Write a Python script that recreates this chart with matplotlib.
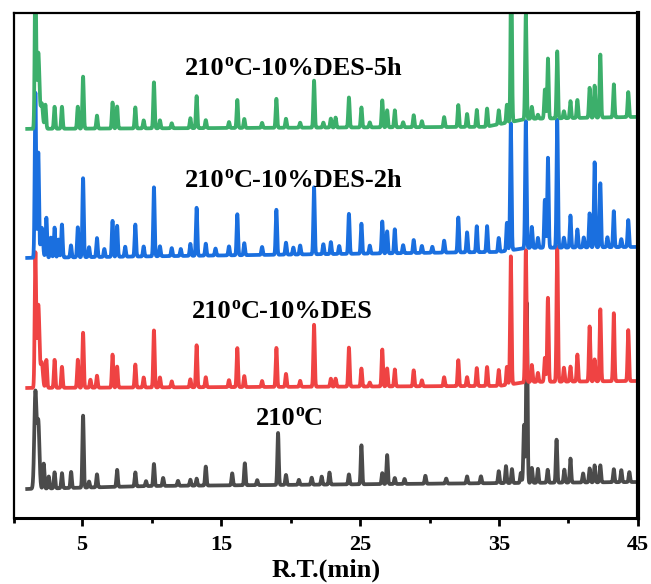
import numpy as np
import matplotlib
matplotlib.use("Agg")
import matplotlib.pyplot as plt
from matplotlib.transforms import offset_copy

# ==============================================================================
# DADOS: tempo de retenção (min) e altura dos picos
# ==============================================================================
# Linha de base de cada cromatograma (nós t, nível)
gray_base_t = [1.0, 10.0, 45.0]
gray_base_y = [29, 32, 36]
red_base_t = [1.0, 35.0, 37.0, 45.0]
red_base_y = [130, 132, 136, 137]
blue_base_t = [1.0, 35.0, 37.0, 45.0]
blue_base_y = [260, 266, 270, 271]
green_base_t = [1.0, 34.0, 37.0, 45.0]
green_base_y = [389, 391, 399, 401]

# 210oC
gray_rt = [1.64, 1.85, 2.24, 2.6, 3.02, 3.55, 4.21, 5.07, 5.5, 6.07, 7.52, 8.83,
           9.6, 10.17, 10.83, 11.9, 12.79, 13.24, 13.9, 15.8, 16.71, 17.6, 19.1,
           19.67, 20.6, 21.52, 22.24, 22.8, 24.2, 25.1, 26.6, 26.95, 27.5, 28.2,
           29.7, 31.2, 32.7, 33.7, 34.98, 35.5, 35.93, 36.57, 36.8, 37.0, 37.36,
           37.8, 38.5, 39.14, 39.7, 40.14, 41.05, 41.52, 41.88, 42.29, 43.26,
           43.8, 44.38]
gray_h = [96, 66, 25, 12, 16, 15, 16, 72, 6, 13, 17, 14,
          5, 22, 8, 5, 6, 7, 19, 12, 22, 5, 52,
          10, 5, 7, 8, 12, 10, 39, 11, 29, 6, 5,
          8, 5, 7, 7, 12, 17, 14, 10, 58, 180, 15,
          14, 13, 43, 13, 24, 9, 14, 17, 17, 13,
          12, 10]

# 210oC-10%DES
red_rt = [1.64, 1.85, 2.1, 2.43, 3.02, 3.55, 4.69, 5.07, 5.6, 6.07, 7.19, 7.52,
          8.83, 9.43, 10.17, 10.6, 11.45, 12.79, 13.24, 13.9, 15.57, 16.17,
          16.67, 17.95, 18.98, 19.67, 20.69, 21.69, 22.9, 23.24, 24.2, 25.1,
          25.7, 26.6, 26.95, 27.5, 28.86, 29.45, 31.05, 32.07, 32.7, 33.4,
          34.14, 34.98, 35.57, 35.85, 36.93, 37.36, 37.8, 38.3, 38.52, 39.19,
          39.67, 40.14, 40.64, 41.52, 41.88, 42.29, 43.26, 44.3]
red_h = [133, 83, 25, 28, 28, 21, 28, 55, 8, 12, 33, 21,
         23, 10, 57, 10, 6, 8, 42, 10, 7, 39,
         11, 6, 39, 13, 6, 62, 8, 8, 39, 18,
         4, 37, 18, 17, 16, 6, 9, 26, 9, 18,
         19, 16, 18, 128, 132, 17, 9, 24, 84, 135,
         14, 15, 27, 55, 22, 72, 68, 51]

# 210oC-10%DES-2h
blue_rt = [1.64, 1.85, 2.1, 2.43, 2.75, 3.02, 3.3, 3.55, 4.2, 4.69, 5.07, 5.5,
           6.07, 6.6, 7.19, 7.52, 8.1, 8.83, 9.43, 10.17, 10.6, 11.45, 12.1,
           12.79, 13.24, 13.9, 14.6, 15.57, 16.17, 16.67, 17.95, 18.98, 19.67,
           20.2, 20.69, 21.69, 22.36, 22.9, 23.5, 24.2, 25.1, 25.7, 26.6, 26.95,
           27.5, 28.1, 28.86, 29.45, 30.2, 31.05, 32.07, 32.7, 33.4, 34.14,
           34.98, 35.57, 35.85, 36.93, 37.36, 37.8, 38.3, 38.52, 39.19, 39.67,
           40.14, 40.64, 41.1, 41.52, 41.88, 42.29, 42.8, 43.26, 43.8, 44.3]
blue_h = [165, 105, 30, 40, 20, 30, 18, 33, 12, 30, 79, 10,
          19, 8, 36, 31, 10, 32, 10, 69, 10, 8, 7,
          12, 48, 12, 7, 9, 41, 12, 8, 45, 12,
          7, 9, 67, 10, 12, 8, 40, 30, 8, 32, 22,
          24, 8, 13, 7, 6, 12, 35, 20, 26, 26,
          14, 28, 127, 127, 21, 10, 48, 90, 128, 10,
          32, 18, 10, 34, 85, 64, 10, 36, 8, 27]

# 210oC-10%DES-5h
green_rt = [1.64, 1.85, 2.1, 2.36, 3.02, 3.55, 4.69, 5.07, 6.07, 7.19, 7.52,
            8.83, 9.43, 10.17, 10.6, 11.45, 12.79, 13.24, 13.9, 15.57, 16.17,
            16.67, 17.95, 18.98, 19.67, 20.69, 21.69, 22.36, 22.9, 23.24, 24.2,
            25.1, 25.7, 26.6, 26.95, 27.5, 28.1, 28.86, 29.45, 31.05, 32.07,
            32.7, 33.4, 34.14, 34.98, 35.57, 35.88, 36.93, 37.36, 37.8, 38.3,
            38.52, 39.19, 39.67, 40.14, 40.64, 41.52, 41.88, 42.29, 43.26, 44.3]
green_h = [160, 76, 25, 24, 22, 22, 22, 52, 13, 26, 22,
           21, 8, 46, 8, 5, 10, 32, 8, 6, 28,
           9, 5, 29, 9, 5, 47, 5, 9, 10, 30,
           20, 5, 27, 17, 17, 5, 12, 6, 10, 22,
           13, 17, 18, 14, 18, 160, 105, 12, 4, 29,
           60, 67, 7, 17, 18, 30, 32, 63, 33, 25]

# Rótulos: (base, expoente, resto)
rotulos = [("210", "o", "C"),
           ("210", "o", "C-10%DES"),
           ("210", "o", "C-10%DES-2h"),
           ("210", "o", "C-10%DES-5h")]
rotulo_x = [19.9, 19.4, 20.2, 20.2]
rotulo_y = [93, 200, 331, 443]

cores = ["#4b4b4b", "#ef4343", "#1a6fdf", "#3caf6b"]


# ==============================================================================
# MONTAGEM DO SINAL
# ==============================================================================
def cromatograma(t, base_t, base_y, rt, h):
    """Linha de base + picos estreitos nas posições lidas."""
    y = np.interp(t, base_t, base_y)
    for r, a in zip(rt, h):
        s = 0.08 if r < 2.2 and a < 100 else 0.05
        y = y + a * np.exp(-0.5 * ((t - r) / s) ** 2)
    return y


def rotulo_sobrescrito(ax, x, y, partes, fs=19):
    """Escreve '210' + 'o' sobrescrito + resto, centrado em x."""
    fig = ax.figure
    rend = fig.canvas.get_renderer()
    base, sup, resto = partes
    kw = dict(fontweight="bold", va="baseline", ha="left")
    t1 = ax.text(x, y, base, fontsize=fs, **kw)
    t2 = ax.text(x, y, sup, fontsize=fs * 0.68, **kw)
    t3 = ax.text(x, y, resto, fontsize=fs, **kw)
    w1 = t1.get_window_extent(rend).width
    w2 = t2.get_window_extent(rend).width
    w3 = t3.get_window_extent(rend).width
    x0 = -(w1 + w2 + w3) / 2
    t1.set_transform(offset_copy(ax.transData, fig=fig, x=x0, y=0, units="dots"))
    t2.set_transform(offset_copy(ax.transData, fig=fig, x=x0 + w1, y=9,
                                 units="dots"))
    t3.set_transform(offset_copy(ax.transData, fig=fig, x=x0 + w1 + w2, y=0,
                                 units="dots"))


plt.rcParams["font.family"] = "Liberation Serif"
plt.rcParams["font.weight"] = "bold"

t = np.linspace(1.05, 45.0, 9000)
dados = [
    (gray_base_t, gray_base_y, gray_rt, gray_h),
    (red_base_t, red_base_y, red_rt, red_h),
    (blue_base_t, blue_base_y, blue_rt, blue_h),
    (green_base_t, green_base_y, green_rt, green_h),
]

fig = plt.figure(figsize=(6.51, 5.84), dpi=100)
ax = fig.add_axes([0.0215, 0.113, 0.9585, 0.865])

for (bt, by, rt, h), cor in zip(dados, cores):
    ax.plot(t, cromatograma(t, bt, by, rt, h), color=cor, linewidth=2.7,
            solid_joinstyle="round")

ax.set_xlim(0.1, 45)
ax.set_ylim(0, 505)

for partes, x, y in zip(rotulos, rotulo_x, rotulo_y):
    rotulo_sobrescrito(ax, x, y, partes)

ax.set_yticks([])
ax.set_xticks([5, 15, 25, 35, 45])
ax.set_xticks([0.1, 10, 20, 30, 40], minor=True)
ax.tick_params(axis="x", which="major", direction="out", length=6, width=2,
               labelsize=16, pad=6)
ax.tick_params(axis="x", which="minor", direction="out", length=3.5, width=2)
ax.set_xlabel("R.T.(min)", fontsize=19, fontweight="bold", labelpad=3)

ax.spines["left"].set_linewidth(1.6)
ax.spines["top"].set_linewidth(1.6)
ax.spines["bottom"].set_linewidth(2.2)
ax.spines["right"].set_linewidth(3)

fig.savefig("out.png", dpi=100)
